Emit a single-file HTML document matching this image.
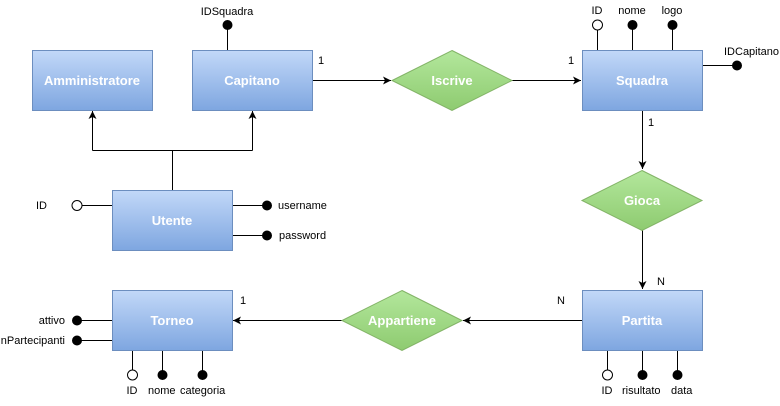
<!DOCTYPE html>
<html><head><meta charset="utf-8"><style>
html,body{margin:0;padding:0;background:#fff;}
svg text{font-family:"Liberation Sans",Arial,sans-serif;}
.l{font-size:11px;fill:#000;}
.t{font-size:13px;font-weight:bold;fill:#fff;text-anchor:middle;}
</style></head><body>
<svg width="780" height="401" viewBox="0 0 780 401" xmlns="http://www.w3.org/2000/svg">
<defs>
<linearGradient id="b" x1="0" y1="0" x2="0" y2="1"><stop offset="0" stop-color="#c2d8f8"/><stop offset="1" stop-color="#7ea6e0"/></linearGradient>
<linearGradient id="g" x1="0" y1="0" x2="0" y2="1"><stop offset="0" stop-color="#b3e79c"/><stop offset="1" stop-color="#8ecb70"/></linearGradient>
<marker id="a" markerWidth="10" markerHeight="10" refX="8" refY="5" orient="auto" markerUnits="userSpaceOnUse"><path d="M0,1 L8,5 L0,9 L2,5 Z" fill="#000"/></marker>
</defs>
<g stroke="#000" stroke-width="1" fill="none">
<!-- inheritance -->
<path d="M172.5 190 V150.5 M92.5 150.5 H252.5 M92.5 150.5 V111" marker-end="url(#a)"/>
<path d="M252.5 150.5 V111" marker-end="url(#a)"/>
<path d="M227.5 25 V50"/>
<path d="M312 80.5 H391" marker-end="url(#a)"/>
<path d="M512 80.5 H581" marker-end="url(#a)"/>
<path d="M597.5 25 V50 M632.5 25 V50 M672.5 25 V50 M702 65.5 H737"/>
<path d="M642.5 110 V169" marker-end="url(#a)"/>
<path d="M642.5 230 V289" marker-end="url(#a)"/>
<path d="M582 320.5 H463" marker-end="url(#a)"/>
<path d="M342 320.5 H233" marker-end="url(#a)"/>
<path d="M82 205.5 H112 M232 205.5 H267 M232 235.5 H267"/>
<path d="M77 320.5 H112 M77 340.5 H112"/>
<path d="M132.5 350 V375 M162.5 350 V375 M202.5 350 V375"/>
<path d="M607.5 350 V375 M642.5 350 V375 M677.5 350 V375"/>
</g>
<g stroke="#6c8ebf" fill="url(#b)">
<rect x="32.5" y="50.5" width="120" height="60"/>
<rect x="192.5" y="50.5" width="120" height="60"/>
<rect x="112.5" y="190.5" width="120" height="60"/>
<rect x="582.5" y="50.5" width="120" height="60"/>
<rect x="582.5" y="290.5" width="120" height="60"/>
<rect x="112.5" y="290.5" width="120" height="60"/>
</g>
<g stroke="#82b366" fill="url(#g)">
<path d="M452 50.5 L512 80.5 L452 110.5 L392 80.5 Z"/>
<path d="M642 170.5 L702 200.5 L642 230.5 L582 200.5 Z"/>
<path d="M402 290.5 L462 320.5 L402 350.5 L342 320.5 Z"/>
</g>
<g fill="#000">
<circle cx="227.5" cy="25" r="5"/>
<circle cx="632.5" cy="25" r="5"/><circle cx="672.5" cy="25" r="5"/>
<circle cx="737" cy="65.5" r="5"/>
<circle cx="267" cy="205.5" r="5"/><circle cx="267" cy="235.5" r="5"/>
<circle cx="77" cy="320.5" r="5"/><circle cx="77" cy="340.5" r="5"/>
<circle cx="162.5" cy="375" r="5"/><circle cx="202.5" cy="375" r="5"/>
<circle cx="642.5" cy="375" r="5"/><circle cx="677.5" cy="375" r="5"/>
</g>
<g fill="#fff" stroke="#000">
<circle cx="597.5" cy="25" r="5"/><circle cx="77" cy="205.5" r="5"/>
<circle cx="132.5" cy="375" r="5"/><circle cx="607.5" cy="375" r="5"/>
</g>
<g class="t">
<text x="92" y="85">Amministratore</text>
<text x="252" y="85">Capitano</text>
<text x="172" y="225">Utente</text>
<text x="642" y="85">Squadra</text>
<text x="642" y="325">Partita</text>
<text x="172" y="325">Torneo</text>
<text x="452" y="85">Iscrive</text>
<text x="642" y="205">Gioca</text>
<text x="402" y="325">Appartiene</text>
</g>
<g class="l">
<text x="227" y="15" text-anchor="middle">IDSquadra</text>
<text x="318" y="64">1</text>
<text x="568" y="64">1</text>
<text x="648" y="126">1</text>
<text x="657" y="285">N</text>
<text x="557" y="304">N</text>
<text x="240" y="304">1</text>
<text x="597" y="14" text-anchor="middle">ID</text>
<text x="632" y="14" text-anchor="middle">nome</text>
<text x="672" y="14" text-anchor="middle">logo</text>
<text x="724" y="55">IDCapitano</text>
<text x="36" y="209">ID</text>
<text x="278" y="209">username</text>
<text x="279" y="239">password</text>
<text x="65" y="324" text-anchor="end">attivo</text>
<text x="65" y="344" text-anchor="end">nPartecipanti</text>
<text x="132" y="394" text-anchor="middle">ID</text>
<text x="148" y="394">nome</text>
<text x="180" y="394">categoria</text>
<text x="607" y="394" text-anchor="middle">ID</text>
<text x="622" y="394">risultato</text>
<text x="671" y="394">data</text>
</g>
</svg>
</body></html>
